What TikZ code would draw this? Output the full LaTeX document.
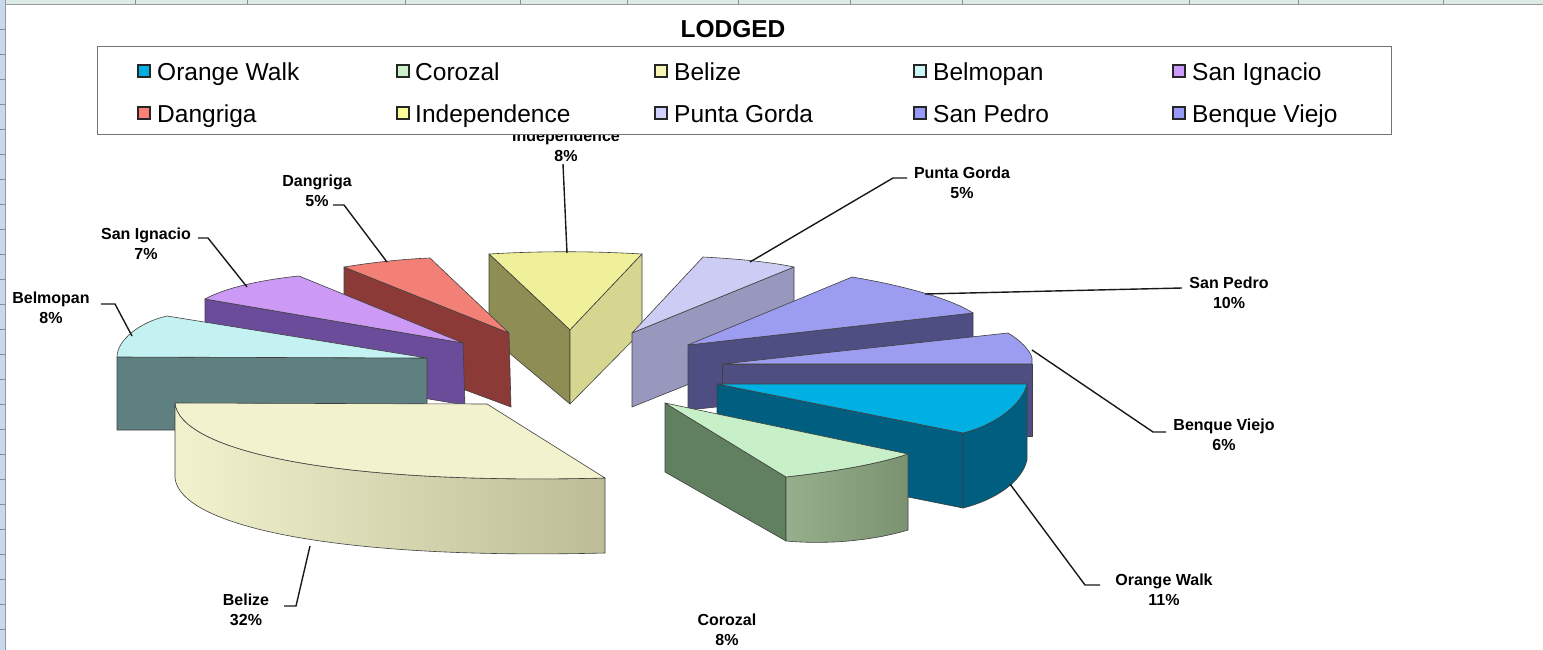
\documentclass[tikz,border=0pt]{standalone}
\usepackage{fontspec}
\setmainfont{Liberation Sans}
\definecolor{owT}{RGB}{0,176,226}
\definecolor{owS}{RGB}{0,94,128}
\definecolor{bvT}{RGB}{156,156,240}
\definecolor{bvS}{RGB}{78,78,130}
\definecolor{pgT}{RGB}{204,204,244}
\definecolor{pgS}{RGB}{152,152,190}
\definecolor{inT}{RGB}{240,240,155}
\definecolor{inL}{RGB}{142,142,84}
\definecolor{inR}{RGB}{214,214,144}
\definecolor{dgT}{RGB}{242,128,118}
\definecolor{dgS}{RGB}{140,58,56}
\definecolor{siT}{RGB}{204,153,245}
\definecolor{siS}{RGB}{106,76,154}
\definecolor{bmT}{RGB}{196,242,242}
\definecolor{bmS}{RGB}{94,128,128}
\definecolor{bzT}{RGB}{242,242,206}
\definecolor{bzD}{RGB}{188,188,150}
\definecolor{czT}{RGB}{200,240,200}
\definecolor{czL}{RGB}{96,128,96}
\definecolor{czF}{RGB}{140,166,128}
\definecolor{lgOW}{RGB}{0,176,226}
\definecolor{lgCZ}{RGB}{204,240,204}
\definecolor{lgBZ}{RGB}{245,245,180}
\definecolor{lgBM}{RGB}{204,245,245}
\definecolor{lgSI}{RGB}{204,153,255}
\definecolor{lgDG}{RGB}{250,128,120}
\definecolor{lgIN}{RGB}{250,250,150}
\definecolor{lgPG}{RGB}{210,210,255}
\definecolor{lgSP}{RGB}{153,153,250}
\definecolor{stripT}{RGB}{220,235,228}
\definecolor{stripL}{RGB}{200,216,238}
\begin{document}
\begin{tikzpicture}[x=1pt,y=-1pt,
  edge/.style={draw=black!75,line width=0.6pt,line join=round},
  lead/.style={draw=black!90,line width=1.4pt},
  lbl/.style={font=\fontsize{16}{19.5}\selectfont\bfseries,align=center,inner sep=0pt},
  leg/.style={font=\fontsize{24.5}{28}\selectfont,anchor=base west,inner sep=0pt},
  mk/.style={draw=black!85,line width=1.2pt}]
\useasboundingbox (0,0) rectangle (1543,650);
\fill[white] (0,0) rectangle (1543,650);
% spreadsheet strips
\fill[stripT] (0,0) rectangle (1543,4);
\draw[black!40,line width=0.6pt] (0,4) -- (1543,4);
\foreach \gx in {135,247,405,520,627,738,850,962,1189,1298,1443}
  \draw[black!45,line width=0.6pt] (\gx,0) -- (\gx,4);
\fill[stripL] (0,0) rectangle (5,650);
\draw[black!40,line width=0.6pt] (5,0) -- (5,650);
\foreach \gy in {29,54,...,650}
  \draw[black!45,line width=0.6pt] (0,\gy) -- (5,\gy);

% label partly hidden behind the legend
\node[lbl] (inL) at (566,146) {Independence\\8\%};

% ---------- slices (back to front) ----------
% Independence
\draw[edge,fill=inT] (489,254) .. controls (540,251) and (590,251) .. (642,254) -- (570,330) -- cycle;
\draw[edge,fill=inL] (489,254) -- (570,330) -- (570,404) -- (489,336) -- cycle;
\draw[edge,fill=inR] (570,330) -- (642,254) -- (642,331) -- (570,404) -- cycle;
% Punta Gorda
\draw[edge,fill=pgS] (632,333) -- (794,267) -- (794,342) -- (632,407) -- cycle;
\draw[edge,fill=pgT] (632,333) -- (703,257) .. controls (740,259) and (770,262) .. (794,267) -- cycle;
% Dangriga
\draw[edge,fill=dgS] (344,267) -- (509,333) -- (511,407) -- (344,345) -- cycle;
\draw[edge,fill=dgT] (344,267) .. controls (375,262) and (405,259) .. (430,258) -- (509,333) -- cycle;
% San Ignacio
\draw[edge,fill=siS] (205,299) -- (463,343) -- (465,405) -- (205,362) -- cycle;
\draw[edge,fill=siT] (205,299) .. controls (225,288) and (260,280) .. (299,276) -- (463,343) -- cycle;
% Belmopan
\draw[edge,fill=bmS] (117,357) -- (427,358) -- (427,430) -- (117,430) -- cycle;
\draw[edge,fill=bmT] (117,357) .. controls (117,340) and (140,322) .. (167,316) -- (427,358) -- cycle;
% San Pedro
\draw[edge,fill=bvS] (688,345) -- (973,313) -- (973,380) -- (688,410) -- cycle;
\draw[edge,fill=bvT] (688,345) -- (852,277) .. controls (900,285) and (950,298) .. (973,313) -- cycle;
% Benque Viejo
\draw[edge,fill=bvS] (722,364) -- (1032,364) -- (1032,436) -- (722,436) -- cycle;
\draw[edge,fill=bvT] (722,364) -- (1008,333) .. controls (1020,340) and (1030,350) .. (1032,358) -- (1032,364) -- cycle;
% Orange Walk
\draw[edge,fill=owS] (717,384) -- (963,433) -- (963,508) -- (717,459) -- cycle;
\draw[edge,fill=owS] (963,433) .. controls (995,425) and (1022,405) .. (1027,384) -- (1027,460) .. controls (1022,482) and (995,500) .. (963,508) -- cycle;
\draw[edge,fill=owT] (717,384) -- (1027,384) .. controls (1022,405) and (995,425) .. (963,433) -- cycle;
% Corozal
\draw[edge,fill=czL] (665,403) -- (786,477) -- (786,541) -- (665,472) -- cycle;
\draw[edge,left color=czF!90!white,right color=czF!88!black] (786,477) .. controls (830,472) and (875,465) .. (908,454) -- (908,530) .. controls (875,540) and (830,545) .. (786,541) -- cycle;
\draw[edge,fill=czT] (665,403) -- (908,454) .. controls (875,465) and (830,472) .. (786,477) -- cycle;
% Belize
\draw[edge,left color=bzT,middle color=bzT!80!bzD,right color=bzD] (605,478) .. controls (330,485) and (180,450) .. (175,403) -- (175,478) .. controls (180,525) and (330,560) .. (605,553) -- cycle;
\draw[edge,fill=bzT] (175,403) -- (487,404) -- (605,478) .. controls (330,485) and (180,450) .. (175,403) -- cycle;

% ---------- legend ----------
\draw[black!55,line width=1pt,fill=white] (97,47) rectangle (1391,135);
\node[font=\fontsize{24.5}{28}\selectfont\bfseries,anchor=base,inner sep=0pt] (title) at (733,38) {LODGED};
\draw[mk,fill=lgOW] (138,65) rectangle (150,77);
\node[leg] (l1) at (157,81) {Orange Walk};
\draw[mk,fill=lgCZ] (397,65) rectangle (409,77);
\node[leg] (l2) at (415,81) {Corozal};
\draw[mk,fill=lgBZ] (655,65) rectangle (667,77);
\node[leg] (l3) at (674,81) {Belize};
\draw[mk,fill=lgBM] (914,65) rectangle (926,77);
\node[leg] (l4) at (933,81) {Belmopan};
\draw[mk,fill=lgSI] (1173,65) rectangle (1185,77);
\node[leg] (l5) at (1192,81) {San Ignacio};
\draw[mk,fill=lgDG] (138,107) rectangle (150,119);
\node[leg] (l6) at (157,123) {Dangriga};
\draw[mk,fill=lgIN] (397,107) rectangle (409,119);
\node[leg] (l7) at (415,123) {Independence};
\draw[mk,fill=lgPG] (655,107) rectangle (667,119);
\node[leg] (l8) at (674,123) {Punta Gorda};
\draw[mk,fill=lgSP] (914,107) rectangle (926,119);
\node[leg] (l9) at (933,123) {San Pedro};
\draw[mk,fill=lgSP] (1173,107) rectangle (1185,119);
\node[leg] (l10) at (1192,123) {Benque Viejo};

% ---------- data labels ----------
\node[lbl] (dgL) at (317,191) {Dangriga\\5\%};
\node[lbl] (siL) at (146,244) {San Ignacio\\7\%};
\node[lbl] (bmL) at (51,308) {Belmopan\\8\%};
\node[lbl] (pgL) at (962,183) {Punta Gorda\\5\%};
\node[lbl] (spL) at (1229,293) {San Pedro\\10\%};
\node[lbl] (bvL) at (1224,435) {Benque Viejo\\6\%};
\node[lbl] (owL) at (1164,590) {Orange Walk\\11\%};
\node[lbl] (czL) at (727,630) {Corozal\\8\%};
\node[lbl] (bzL) at (246,610) {Belize\\32\%};

% leader coordinates
\coordinate (dgA) at (333,205); \coordinate (dgB) at (344,205); \coordinate (dgC) at (387,262);
\coordinate (siA) at (198,238); \coordinate (siB) at (208,238); \coordinate (siC) at (247,287);
\coordinate (bmA) at (101,304); \coordinate (bmB) at (115,304); \coordinate (bmC) at (132,336);
\coordinate (inA) at (563,164); \coordinate (inC) at (567,253);
\coordinate (pgA) at (907,178); \coordinate (pgB) at (893,178); \coordinate (pgC) at (750,262);
\coordinate (spA) at (1182,288); \coordinate (spC) at (925,294);
\coordinate (bvA) at (1166,432); \coordinate (bvB) at (1153,432); \coordinate (bvC) at (1032,350);
\coordinate (owA) at (1100,585); \coordinate (owB) at (1085,585); \coordinate (owC) at (1010,484);
\coordinate (bzA) at (284,606); \coordinate (bzB) at (296,606); \coordinate (bzC) at (310,546);
\draw[lead] (dgA) -- (dgB) -- (dgC);
\draw[lead] (siA) -- (siB) -- (siC);
\draw[lead] (bmA) -- (bmB) -- (bmC);
\draw[lead] (inA) -- (inC);
\draw[lead] (pgA) -- (pgB) -- (pgC);
\draw[lead] (spA) -- (spC);
\draw[lead] (bvA) -- (bvB) -- (bvC);
\draw[lead] (owA) -- (owB) -- (owC);
\draw[lead] (bzA) -- (bzB) -- (bzC);
\end{tikzpicture}
\end{document}
